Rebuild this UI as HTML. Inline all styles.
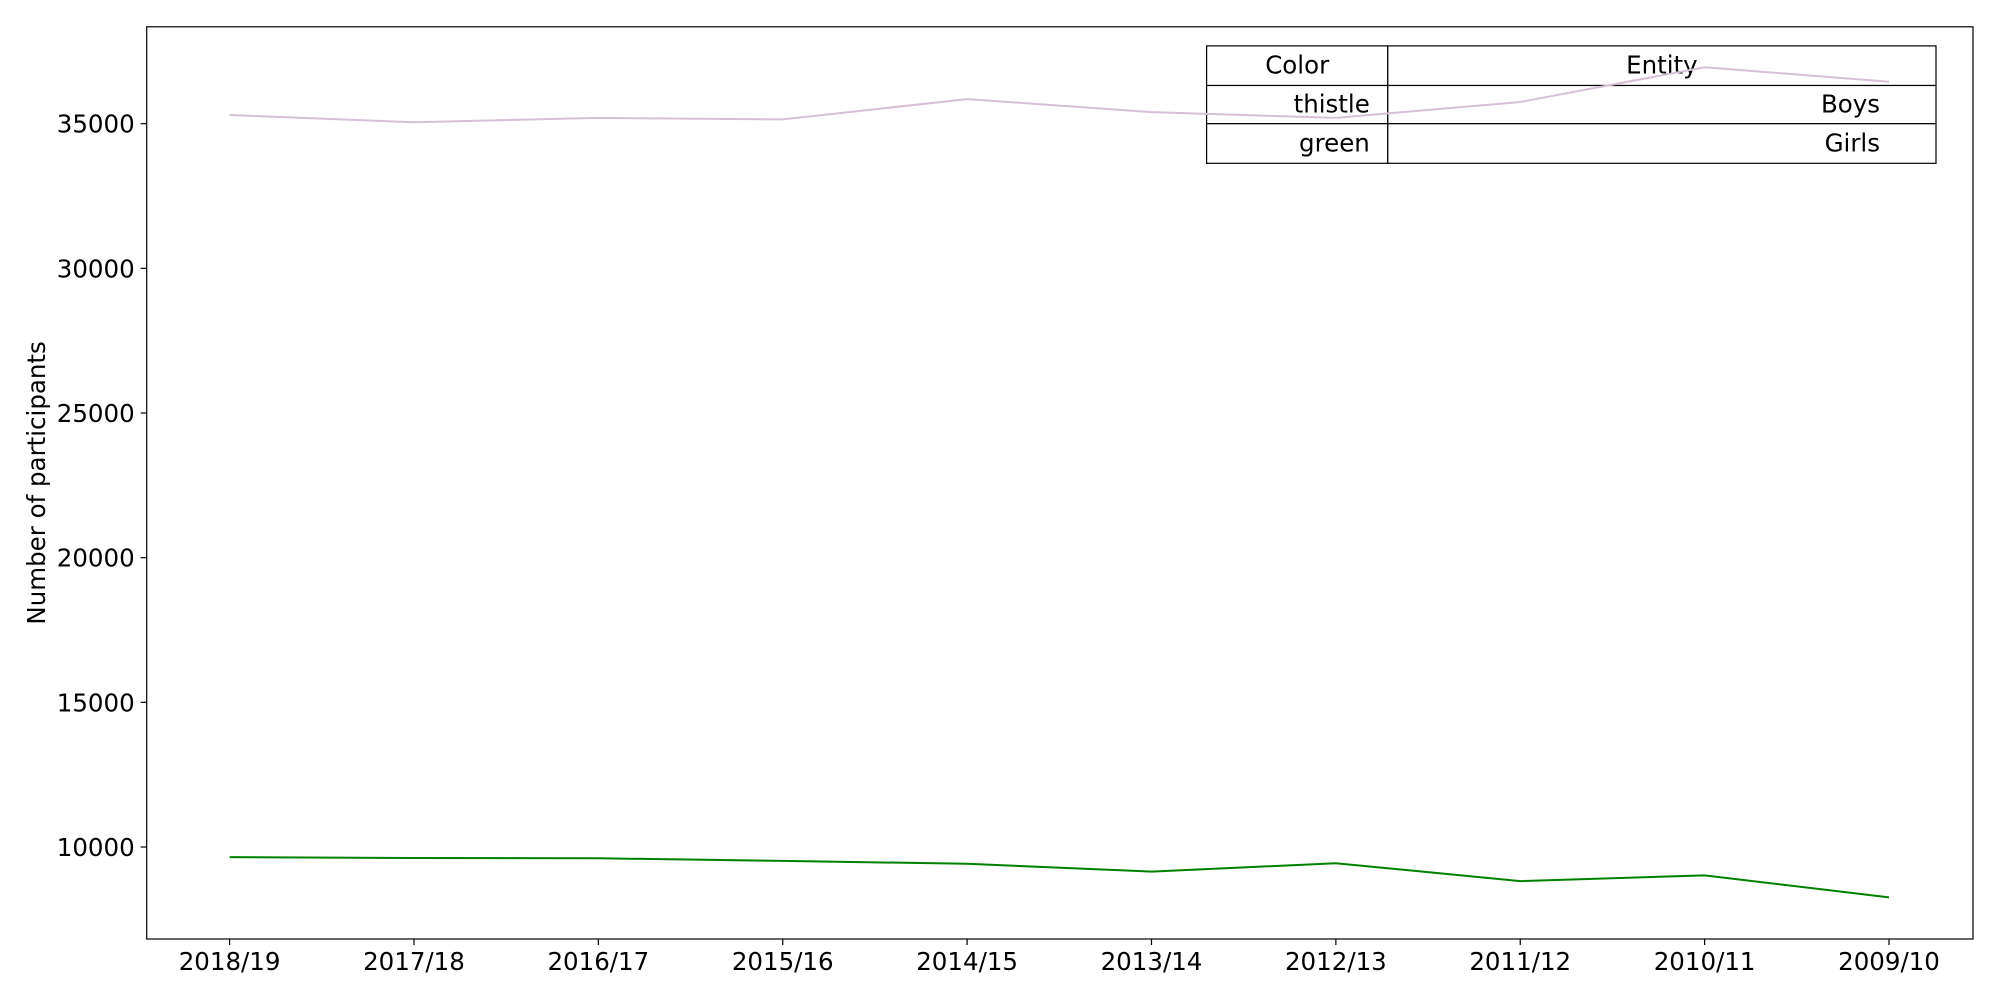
<!DOCTYPE html>
<html><head><meta charset="utf-8"><style>
body{margin:0;background:#fff;font-family:"Liberation Sans","DejaVu Sans",sans-serif;}
svg text{font-family:"DejaVu Sans","Liberation Sans",sans-serif;}
</style></head><body>
<svg id="chart" width="2000" height="1000" viewBox="0 0 2000 1000" xmlns="http://www.w3.org/2000/svg">
<rect width="2000" height="1000" fill="#fff"/>
<g id="plot"></g>
</svg>
<script>
const categories = ["2018/19","2017/18","2016/17","2015/16","2014/15","2013/14","2012/13","2011/12","2010/11","2009/10"];
const boys = [35300,35050,35200,35150,35850,35400,35200,35750,36950,36450];
const girls = [9650,9620,9610,9520,9420,9150,9440,8820,9020,8260];
const yTicks = [10000,15000,20000,25000,30000,35000];
const tableRows = [["thistle","Boys"],["green","Girls"]];

const NS="http://www.w3.org/2000/svg";
const L=146.7,R=1973,T=26.8,B=939;
const x0=229.6,x1=1889;
const FS=24.5;
function xs(i){return x0+(x1-x0)*i/(categories.length-1);}
function ys(v){return 847+(10000-v)*(723.3/25000);}
const g=document.getElementById('plot');
function el(tag,attrs,text){const e=document.createElementNS(NS,tag);for(const k in attrs)e.setAttribute(k,attrs[k]);if(text!==undefined)e.textContent=text;g.appendChild(e);return e;}

const frame=el('rect',{x:L,y:T,width:R-L,height:B-T,fill:'none',stroke:'#000','stroke-width':1.2});



yTicks.forEach(v=>{
  const y=ys(v);
  const t=el('line',{x1:L-6,x2:L,y1:y,y2:y,stroke:'#000','stroke-width':1.2});
  
  
  const lb=el('text',{x:L-12,y:y+9,'text-anchor':'end','font-size':FS},String(v));
  
  
});
categories.forEach((c,i)=>{
  const x=xs(i);
  const t=el('line',{x1:x,x2:x,y1:B,y2:B+6,stroke:'#000','stroke-width':1.2});
  
  
  const lb=el('text',{x:x,y:B+31,'text-anchor':'middle','font-size':FS},c);
  
  
});
const yt=el('text',{x:45,y:(T+B)/2,'text-anchor':'middle','font-size':FS,transform:`rotate(-90 45 ${(T+B)/2})`},'Number of participants');



// table legend
const tx0=1206.6,tx1=1387.8,tx2=1936;
const rowsY=[45.9,85.5,123.7,163.3];
const hdr=[["Color","Entity"]].concat(tableRows);
for(let r=0;r<3;r++){
  const a=rowsY[r],b=rowsY[r+1];
  const c1=el('rect',{x:tx0,y:a,width:tx1-tx0,height:b-a,fill:'#fff',stroke:'#000','stroke-width':1.2});
  
  
  const c2=el('rect',{x:tx1,y:a,width:tx2-tx1,height:b-a,fill:'#fff',stroke:'#000','stroke-width':1.2});
  
  
  const my=(a+b)/2+8;
  let t1,t2;
  if(r===0){
    t1=el('text',{x:(tx0+tx1)/2,y:my,'text-anchor':'middle','font-size':FS},hdr[r][0]);
    t2=el('text',{x:(tx1+tx2)/2,y:my,'text-anchor':'middle','font-size':FS},hdr[r][1]);
  }else{
    t1=el('text',{x:tx1-18,y:my,'text-anchor':'end','font-size':FS},hdr[r][0]);
    t2=el('text',{x:tx2-56,y:my,'text-anchor':'end','font-size':FS},hdr[r][1]);
  }
  
  
  
  
}

function line(data,color,name){
  const p=el('polyline',{points:data.map((v,i)=>xs(i)+','+ys(v)).join(' '),fill:'none',stroke:color,'stroke-width':2});
  
  
}
line(boys,'thistle','boys-line');
line(girls,'green','girls-line');
</script>
</body></html>
